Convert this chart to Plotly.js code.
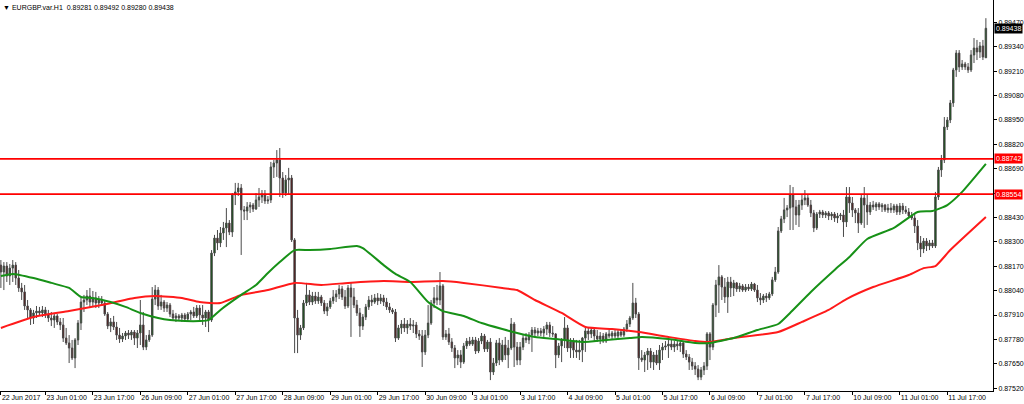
<!DOCTYPE html>
<html>
<head>
<meta charset="utf-8">
<script src="https://cdn.plot.ly/plotly-3.0.1.min.js"></script>
<style>
html,body{margin:0;padding:0;background:#fff;}
#chart{width:1024px;height:404px;}
</style>
</head>
<body>
<div id="chart"></div>
<script>
// ---- data (EURGBP H1) ----
var symbolTitle = "▼ EURGBP.var.H1  0.89281 0.89492 0.89280 0.89438";

var openP = [
0.88176,0.88139,0.88171,0.88118,0.88160,0.88176,0.88107,0.88054,0.88033,0.87958,
0.87937,0.87894,0.87921,0.87931,0.87921,0.87937,0.87915,0.87894,0.87883,0.87905,
0.87873,0.87857,0.87787,0.87761,0.87734,0.87681,0.87777,0.87867,0.87979,0.87990,
0.88011,0.87979,0.88001,0.87974,0.87990,0.87974,0.87915,0.87851,0.87873,0.87846,
0.87803,0.87782,0.87798,0.87814,0.87803,0.87819,0.87787,0.87814,0.87857,0.87739,
0.87777,0.87803,0.87995,0.88043,0.87958,0.87979,0.87947,0.87963,0.87915,0.87894,
0.87905,0.87894,0.87910,0.87889,0.87915,0.87926,0.87905,0.87947,0.87910,0.87894,
0.87926,0.87883,0.88240,0.88320,0.88294,0.88347,0.88374,0.88400,0.88352,0.88550,
0.88566,0.88587,0.88470,0.88464,0.88486,0.88496,0.88475,0.88523,0.88539,0.88555,
0.88518,0.88523,0.88699,0.88720,0.88736,0.88640,0.88560,0.88630,0.88640,0.88310,
0.87894,0.87803,0.87841,0.87974,0.88017,0.87979,0.88011,0.87985,0.88006,0.87974,
0.87931,0.87953,0.87985,0.88006,0.88022,0.88049,0.88006,0.87958,0.88054,0.88006,
0.87963,0.87921,0.87851,0.87899,0.87953,0.87990,0.87979,0.88001,0.87985,0.88001,
0.87979,0.87953,0.87937,0.87926,0.87787,0.87841,0.87862,0.87841,0.87862,0.87851,
0.87857,0.87809,0.87798,0.87713,0.87803,0.87867,0.87974,0.88001,0.87990,0.88065,
0.87793,0.87809,0.87766,0.87734,0.87681,0.87697,0.87659,0.87745,0.87771,0.87755,
0.87777,0.87718,0.87771,0.87798,0.87729,0.87766,0.87606,0.87654,0.87761,0.87670,
0.87750,0.87697,0.87734,0.87862,0.87739,0.87670,0.87739,0.87787,0.87777,0.87803,
0.87830,0.87814,0.87825,0.87814,0.87835,0.87857,0.87814,0.87809,0.87697,0.87745,
0.87777,0.87841,0.87734,0.87766,0.87723,0.87713,0.87723,0.87787,0.87825,0.87809,
0.87830,0.87798,0.87782,0.87798,0.87771,0.87809,0.87798,0.87814,0.87798,0.87819,
0.87803,0.87835,0.87862,0.87894,0.87974,0.87915,0.87681,0.87670,0.87697,0.87718,
0.87659,0.87697,0.87654,0.87723,0.87739,0.87745,0.87755,0.87739,0.87755,0.87745,
0.87761,0.87702,0.87686,0.87659,0.87638,0.87622,0.87579,0.87617,0.87638,0.87809,
0.87739,0.87963,0.88070,0.88113,0.88059,0.88006,0.88086,0.88054,0.88081,0.88049,
0.88065,0.88043,0.88059,0.88049,0.88075,0.88043,0.88001,0.87990,0.88011,0.88001,
0.88022,0.88097,0.88139,0.88358,0.88422,0.88470,0.88480,0.88550,0.88486,0.88443,
0.88496,0.88523,0.88534,0.88496,0.88454,0.88374,0.88448,0.88459,0.88443,0.88454,
0.88438,0.88448,0.88427,0.88438,0.88443,0.88406,0.88539,0.88507,0.88470,0.88454,
0.88400,0.88534,0.88496,0.88459,0.88496,0.88486,0.88502,0.88486,0.88496,0.88470,
0.88480,0.88470,0.88491,0.88459,0.88491,0.88470,0.88459,0.88438,0.88427,0.88384,
0.88294,0.88262,0.88304,0.88278,0.88294,0.88278,0.88539,0.88683,0.88736,0.88912,
0.88949,0.89040,0.89216,0.89306,0.89232,0.89248,0.89232,0.89216,0.89296,0.89333,
0.89312,0.89344,0.89281];

var highP = [
0.88203,0.88192,0.88192,0.88182,0.88203,0.88192,0.88150,0.88081,0.88070,0.87990,
0.87947,0.87937,0.87958,0.87953,0.87958,0.87953,0.87937,0.87926,0.87921,0.87915,
0.87894,0.87894,0.87841,0.87803,0.87777,0.87787,0.87883,0.88001,0.88017,0.88043,
0.88054,0.88038,0.88033,0.88011,0.88011,0.87990,0.87926,0.87894,0.87905,0.87873,
0.87841,0.87814,0.87825,0.87830,0.87830,0.87830,0.87830,0.87990,0.87926,0.87803,
0.87830,0.88059,0.88070,0.88059,0.88017,0.87990,0.87979,0.87974,0.87937,0.87921,
0.87915,0.87921,0.87921,0.87926,0.87937,0.87953,0.87963,0.87963,0.87963,0.87937,
0.87937,0.88256,0.88337,0.88363,0.88379,0.88406,0.88480,0.88416,0.88560,0.88614,
0.88614,0.88608,0.88491,0.88512,0.88512,0.88507,0.88560,0.88587,0.88576,0.88576,
0.88544,0.88726,0.88736,0.88789,0.88800,0.88672,0.88656,0.88694,0.88656,0.88320,
0.87937,0.87857,0.87990,0.88081,0.88043,0.88033,0.88033,0.88033,0.88017,0.87990,
0.87974,0.88001,0.88043,0.88043,0.88070,0.88065,0.88043,0.88070,0.88081,0.88054,
0.87990,0.87947,0.87915,0.87969,0.88011,0.88017,0.88022,0.88027,0.88022,0.88017,
0.88001,0.87974,0.87947,0.87942,0.87857,0.87883,0.87894,0.87883,0.87894,0.87883,
0.87873,0.87830,0.87830,0.87830,0.87963,0.87990,0.88059,0.88070,0.88139,0.88075,
0.87830,0.87841,0.87787,0.87750,0.87723,0.87723,0.87761,0.87787,0.87793,0.87793,
0.87793,0.87787,0.87814,0.87809,0.87777,0.87787,0.87681,0.87777,0.87787,0.87777,
0.87793,0.87777,0.87894,0.87873,0.87766,0.87766,0.87803,0.87814,0.87819,0.87846,
0.87846,0.87841,0.87841,0.87851,0.87873,0.87873,0.87851,0.87814,0.87761,0.87787,
0.87899,0.87857,0.87787,0.87787,0.87777,0.87777,0.87793,0.87846,0.87846,0.87841,
0.87841,0.87830,0.87819,0.87814,0.87819,0.87830,0.87825,0.87830,0.87830,0.87830,
0.87846,0.87883,0.87905,0.88081,0.88001,0.87926,0.87723,0.87713,0.87734,0.87734,
0.87713,0.87723,0.87750,0.87761,0.87771,0.87777,0.87777,0.87771,0.87777,0.87777,
0.87771,0.87723,0.87702,0.87681,0.87659,0.87643,0.87633,0.87659,0.87819,0.87819,
0.87974,0.88097,0.88176,0.88123,0.88107,0.88113,0.88113,0.88097,0.88086,0.88081,
0.88075,0.88075,0.88075,0.88086,0.88081,0.88070,0.88027,0.88022,0.88027,0.88033,
0.88113,0.88166,0.88379,0.88438,0.88534,0.88496,0.88603,0.88592,0.88523,0.88523,
0.88550,0.88576,0.88550,0.88523,0.88470,0.88459,0.88470,0.88470,0.88464,0.88464,
0.88459,0.88459,0.88454,0.88454,0.88470,0.88592,0.88592,0.88539,0.88480,0.88480,
0.88550,0.88592,0.88550,0.88512,0.88518,0.88512,0.88512,0.88507,0.88502,0.88502,
0.88507,0.88502,0.88502,0.88507,0.88507,0.88491,0.88480,0.88459,0.88454,0.88416,
0.88331,0.88320,0.88320,0.88310,0.88310,0.88566,0.88699,0.88763,0.88965,0.88965,
0.89056,0.89227,0.89322,0.89322,0.89269,0.89259,0.89253,0.89322,0.89386,0.89376,
0.89365,0.89376,0.89492];

var lowP = [
0.88054,0.88043,0.88086,0.88070,0.88086,0.88070,0.88033,0.87990,0.87937,0.87894,
0.87857,0.87862,0.87894,0.87905,0.87899,0.87894,0.87873,0.87851,0.87841,0.87857,
0.87830,0.87766,0.87750,0.87654,0.87670,0.87627,0.87750,0.87830,0.87926,0.87963,
0.87947,0.87958,0.87947,0.87947,0.87958,0.87905,0.87835,0.87819,0.87830,0.87777,
0.87761,0.87766,0.87777,0.87782,0.87777,0.87750,0.87734,0.87750,0.87723,0.87723,
0.87766,0.87793,0.87963,0.87937,0.87937,0.87926,0.87926,0.87899,0.87878,0.87873,
0.87878,0.87873,0.87873,0.87873,0.87883,0.87894,0.87894,0.87883,0.87857,0.87846,
0.87819,0.87873,0.88224,0.88256,0.88272,0.88310,0.88272,0.88336,0.88326,0.88496,
0.88544,0.88230,0.88416,0.88416,0.88454,0.88459,0.88470,0.88486,0.88507,0.88502,
0.88502,0.88507,0.88640,0.88646,0.88539,0.88534,0.88544,0.88550,0.88299,0.87707,
0.87707,0.87777,0.87830,0.87958,0.87963,0.87963,0.87969,0.87969,0.87958,0.87915,
0.87905,0.87942,0.87969,0.87979,0.87995,0.87990,0.87942,0.87947,0.87793,0.87947,
0.87905,0.87793,0.87830,0.87883,0.87937,0.87958,0.87969,0.87963,0.87969,0.87958,
0.87937,0.87921,0.87915,0.87766,0.87777,0.87809,0.87819,0.87809,0.87830,0.87814,
0.87787,0.87777,0.87633,0.87697,0.87787,0.87857,0.87947,0.87963,0.87963,0.87777,
0.87777,0.87750,0.87713,0.87627,0.87643,0.87627,0.87649,0.87729,0.87745,0.87745,
0.87702,0.87707,0.87755,0.87713,0.87713,0.87563,0.87590,0.87638,0.87643,0.87659,
0.87670,0.87627,0.87723,0.87633,0.87643,0.87643,0.87723,0.87761,0.87755,0.87713,
0.87793,0.87798,0.87798,0.87793,0.87803,0.87793,0.87793,0.87627,0.87681,0.87659,
0.87734,0.87713,0.87681,0.87681,0.87681,0.87670,0.87659,0.87713,0.87777,0.87787,
0.87771,0.87766,0.87755,0.87761,0.87761,0.87787,0.87782,0.87787,0.87787,0.87793,
0.87793,0.87819,0.87846,0.87883,0.87894,0.87617,0.87659,0.87606,0.87617,0.87627,
0.87617,0.87643,0.87617,0.87670,0.87723,0.87681,0.87723,0.87713,0.87723,0.87713,
0.87681,0.87670,0.87617,0.87617,0.87590,0.87563,0.87563,0.87590,0.87617,0.87670,
0.87723,0.87899,0.87921,0.87990,0.87974,0.87921,0.88006,0.88011,0.88033,0.88033,
0.88033,0.88033,0.88038,0.88038,0.88033,0.87979,0.87963,0.87974,0.87979,0.87990,
0.88011,0.88086,0.88129,0.88347,0.88400,0.88432,0.88363,0.88363,0.88390,0.88379,
0.88470,0.88496,0.88486,0.88432,0.88352,0.88363,0.88427,0.88427,0.88427,0.88416,
0.88416,0.88406,0.88400,0.88416,0.88326,0.88379,0.88454,0.88432,0.88400,0.88347,
0.88390,0.88374,0.88390,0.88443,0.88470,0.88464,0.88470,0.88459,0.88459,0.88454,
0.88454,0.88454,0.88443,0.88443,0.88448,0.88448,0.88427,0.88416,0.88347,0.88256,
0.88219,0.88240,0.88251,0.88256,0.88267,0.88267,0.88523,0.88646,0.88720,0.88896,
0.88933,0.89019,0.89179,0.89205,0.89216,0.89216,0.89200,0.89205,0.89253,0.89269,
0.89280,0.89269,0.89280];

var closeP = [
0.88139,0.88171,0.88118,0.88160,0.88176,0.88107,0.88054,0.88033,0.87958,0.87937,
0.87894,0.87921,0.87931,0.87921,0.87937,0.87915,0.87894,0.87883,0.87905,0.87873,
0.87857,0.87787,0.87761,0.87734,0.87681,0.87777,0.87867,0.87979,0.87990,0.88011,
0.87979,0.88001,0.87974,0.87990,0.87974,0.87915,0.87851,0.87873,0.87846,0.87803,
0.87782,0.87798,0.87814,0.87803,0.87819,0.87787,0.87814,0.87857,0.87739,0.87777,
0.87803,0.87995,0.88043,0.87958,0.87979,0.87947,0.87963,0.87915,0.87894,0.87905,
0.87894,0.87910,0.87889,0.87915,0.87926,0.87905,0.87947,0.87910,0.87894,0.87926,
0.87883,0.88240,0.88320,0.88294,0.88347,0.88374,0.88400,0.88352,0.88550,0.88566,
0.88587,0.88470,0.88464,0.88486,0.88496,0.88475,0.88523,0.88539,0.88555,0.88518,
0.88523,0.88699,0.88720,0.88736,0.88640,0.88560,0.88630,0.88640,0.88310,0.87894,
0.87803,0.87841,0.87974,0.88017,0.87979,0.88011,0.87985,0.88006,0.87974,0.87931,
0.87953,0.87985,0.88006,0.88022,0.88049,0.88006,0.87958,0.88054,0.88006,0.87963,
0.87921,0.87851,0.87899,0.87953,0.87990,0.87979,0.88001,0.87985,0.88001,0.87979,
0.87953,0.87937,0.87926,0.87787,0.87841,0.87862,0.87841,0.87862,0.87851,0.87857,
0.87809,0.87798,0.87713,0.87803,0.87867,0.87974,0.88001,0.87990,0.88065,0.87793,
0.87809,0.87766,0.87734,0.87681,0.87697,0.87659,0.87745,0.87771,0.87755,0.87777,
0.87718,0.87771,0.87798,0.87729,0.87766,0.87606,0.87654,0.87761,0.87670,0.87750,
0.87697,0.87734,0.87862,0.87739,0.87670,0.87739,0.87787,0.87777,0.87803,0.87830,
0.87814,0.87825,0.87814,0.87835,0.87857,0.87814,0.87809,0.87697,0.87745,0.87777,
0.87841,0.87734,0.87766,0.87723,0.87713,0.87723,0.87787,0.87825,0.87809,0.87830,
0.87798,0.87782,0.87798,0.87771,0.87809,0.87798,0.87814,0.87798,0.87819,0.87803,
0.87835,0.87862,0.87894,0.87974,0.87915,0.87681,0.87670,0.87697,0.87718,0.87659,
0.87697,0.87654,0.87723,0.87739,0.87745,0.87755,0.87739,0.87755,0.87745,0.87761,
0.87702,0.87686,0.87659,0.87638,0.87622,0.87579,0.87617,0.87638,0.87809,0.87739,
0.87963,0.88070,0.88113,0.88059,0.88006,0.88086,0.88054,0.88081,0.88049,0.88065,
0.88043,0.88059,0.88049,0.88075,0.88043,0.88001,0.87990,0.88011,0.88001,0.88022,
0.88097,0.88139,0.88358,0.88422,0.88470,0.88480,0.88550,0.88486,0.88443,0.88496,
0.88523,0.88534,0.88496,0.88454,0.88374,0.88448,0.88459,0.88443,0.88454,0.88438,
0.88448,0.88427,0.88438,0.88443,0.88406,0.88539,0.88507,0.88470,0.88454,0.88400,
0.88534,0.88496,0.88459,0.88496,0.88486,0.88502,0.88486,0.88496,0.88470,0.88480,
0.88470,0.88491,0.88459,0.88491,0.88470,0.88459,0.88438,0.88427,0.88384,0.88294,
0.88262,0.88304,0.88278,0.88294,0.88278,0.88539,0.88683,0.88736,0.88912,0.88949,
0.89040,0.89216,0.89306,0.89232,0.89248,0.89232,0.89216,0.89296,0.89333,0.89312,
0.89344,0.89285,0.89438];

// moving averages (read at sample bars)
var greenMaIdx = [0,4,11,17,23,27,31,37,42,47,53,57,62,67,70,74,81,86,90,94,99,104,111,120,122,129,133,138,144,149,156,162,169,174,180,187,196,204,212,216,225,234,239,247,255,262,266,273,281,286,292,301,309,314,319,324,332];
var greenMaVal = [0.88118,0.88129,0.88107,0.88081,0.88054,0.88006,0.88001,0.87979,0.87953,0.87921,0.87894,0.87883,0.87878,0.87878,0.87883,0.87937,0.88017,0.88070,0.88134,0.88192,0.88256,0.88256,0.88262,0.88278,0.88267,0.88176,0.88129,0.88086,0.87979,0.87931,0.87905,0.87867,0.87835,0.87814,0.87793,0.87782,0.87766,0.87777,0.87787,0.87793,0.87782,0.87761,0.87761,0.87787,0.87830,0.87862,0.87921,0.88033,0.88150,0.88219,0.88315,0.88374,0.88459,0.88464,0.88496,0.88566,0.88715];
var redMaIdx = [0,11,23,34,45,52,61,67,74,81,90,99,108,117,129,138,149,156,169,174,180,189,197,206,215,225,234,239,247,262,270,279,285,294,306,311,315,320,332];
var redMaVal = [0.87841,0.87899,0.87931,0.87963,0.88001,0.88011,0.88001,0.87979,0.87974,0.88017,0.88043,0.88081,0.88070,0.88081,0.88091,0.88086,0.88091,0.88081,0.88054,0.88043,0.87990,0.87921,0.87846,0.87835,0.87819,0.87793,0.87771,0.87766,0.87787,0.87819,0.87873,0.87937,0.87995,0.88059,0.88123,0.88160,0.88171,0.88256,0.88432];

// horizontal levels and current price
var levelPrices = [0.88742, 0.88554];
var lastPrice = 0.89438;

// axis ticks
var xTickIdx = [0,15,31,47,63,79,95,111,127,143,159,175,191,207,223,239,255,271,287,303,319];
var xTickText = ["22 Jun 2017","23 Jun 01:00","23 Jun 17:00","26 Jun 09:00","27 Jun 01:00","27 Jun 17:00","28 Jun 09:00","29 Jun 01:00","29 Jun 17:00","30 Jun 09:00","3 Jul 01:00","3 Jul 17:00","4 Jul 09:00","5 Jul 01:00","5 Jul 17:00","6 Jul 09:00","7 Jul 01:00","7 Jul 17:00","10 Jul 09:00","11 Jul 01:00","11 Jul 17:00"];
var yTickVals = [0.87520,0.87650,0.87780,0.87910,0.88040,0.88170,0.88300,0.88430,0.88560,0.88690,0.88820,0.88950,0.89080,0.89210,0.89340,0.89470];
var yTickText = ["0.87520","0.87650","0.87780","0.87910","0.88040","0.88170","0.88300","0.88430","","0.88690","0.88820","0.88950","0.89080","0.89210","0.89340","0.89470"];

// ---- build chart ----
var barIdx = [];
for (var i = 0; i < closeP.length; i++) barIdx.push(i);

var FONT = "Liberation Sans, Arial, sans-serif";

var traces = [
  {
    type: "candlestick",
    x: barIdx, open: openP, high: highP, low: lowP, close: closeP,
    increasing: {line: {color: "#4a4a4a", width: 1}, fillcolor: "#0a560a"},
    decreasing: {line: {color: "#4a4a4a", width: 1}, fillcolor: "#560a0a"},
    whiskerwidth: 0,
    hoverinfo: "skip",
    showlegend: false
  },
  {
    type: "scatter", mode: "lines",
    x: redMaIdx, y: redMaVal,
    line: {color: "#ff1a1a", width: 2, shape: "spline", smoothing: 0.5},
    hoverinfo: "skip", showlegend: false
  },
  {
    type: "scatter", mode: "lines",
    x: greenMaIdx, y: greenMaVal,
    line: {color: "#179117", width: 2, shape: "spline", smoothing: 0.5},
    hoverinfo: "skip", showlegend: false
  }
];

var shapes = levelPrices.map(function (p) {
  return {type: "line", xref: "paper", x0: 0, x1: 1, yref: "y", y0: p, y1: p,
          line: {color: "#ff0000", width: 1.6}, layer: "above"};
});

var annotations = levelPrices.map(function (p) {
  return {xref: "paper", x: 1, xanchor: "left", xshift: 1, yref: "y", y: p, yanchor: "middle",
          text: p.toFixed(5), showarrow: false, bgcolor: "#ff0000", borderpad: 1,
          font: {family: FONT, size: 7, color: "#ffffff"}};
});
annotations.push({xref: "paper", x: 1, xanchor: "left", xshift: 1, yref: "y", y: lastPrice, yanchor: "middle",
  text: lastPrice.toFixed(5), showarrow: false, bgcolor: "#000000", borderpad: 1,
  font: {family: FONT, size: 7, color: "#ffffff"}});

var layout = {
  width: 1024, height: 404,
  margin: {l: 0, r: 31, t: 0, b: 13, pad: 0},
  paper_bgcolor: "#ffffff", plot_bgcolor: "#ffffff",
  showlegend: false,
  title: {text: symbolTitle, x: 0.003, xanchor: "left", xref: "container",
          y: 0.982, yanchor: "middle", yref: "container",
          font: {family: FONT, size: 7, color: "#000000"}},
  xaxis: {
    type: "linear", range: [-0.3, 334.4],
    rangeslider: {visible: false},
    showgrid: false, zeroline: false,
    showline: true, linecolor: "#000000", linewidth: 1,
    ticks: "outside", ticklen: 3, tickcolor: "#000000", tickwidth: 1,
    tickmode: "array", tickvals: xTickIdx, ticktext: xTickText,
    tickangle: 0,
    ticklabelposition: "outside right",
    ticklabelstandoff: 0,
    tickfont: {family: FONT, size: 7, color: "#000000"},
    fixedrange: true
  },
  yaxis: {
    side: "right",
    range: [0.875049, 0.895889],
    showgrid: false, zeroline: false,
    showline: true, linecolor: "#000000", linewidth: 1,
    ticks: "outside", ticklen: 3, tickcolor: "#000000", tickwidth: 1,
    tickmode: "array", tickvals: yTickVals, ticktext: yTickText,
    tickfont: {family: FONT, size: 7, color: "#000000"},
    fixedrange: true
  },
  shapes: shapes,
  annotations: annotations
};

Plotly.newPlot("chart", traces, layout, {displayModeBar: false, staticPlot: true});
</script>
</body>
</html>
